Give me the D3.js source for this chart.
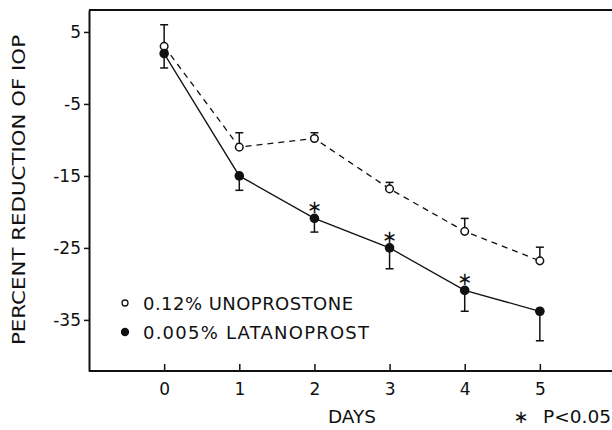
<!DOCTYPE html>
<html>
<head>
<meta charset="utf-8">
<script src="https://cdn.jsdelivr.net/npm/d3@7"></script>
<style>
    body { margin: 0; background: #fff; }
    text { font-family: "DejaVu Sans", sans-serif; fill: #111; }
</style>
</head>
<body>
<div id="chart"></div>
<script>
// Days and mean percent reduction of IOP
const days = [0, 1, 2, 3, 4, 5];
const unoprostone = [3, -11, -9.8, -16.8, -22.7, -26.8];
const unoprostoneErr = [3, 2, 0.8, 0.9, 1.8, 1.9];     // drawn upward
const latanoprost = [2, -15, -20.9, -25, -30.9, -33.8];
const latanoprostErr = [2, 2, 1.9, 2.9, 2.9, 4.1];     // drawn downward
const significantDays = [2, 3, 4];
const yTicks = [5, -5, -15, -25, -35];

const width = 612;
const height = 430;

const svg = d3.select("#chart")
    .append("svg")
    .attr("width", width)
    .attr("height", height);

const x = d3.scaleLinear().domain([-1, 6]).range([89, 615]);
const y = d3.scaleLinear().domain([-42.1, 8.05]).range([371, 10]);

// frame: top line and left axis
svg.append("line")
    .attr("x1", 89).attr("x2", width)
    .attr("y1", y(8.05)).attr("y2", y(8.05))
    .attr("stroke", "#111").attr("stroke-width", 2);

const yAxis = svg.append("g")
    .attr("transform", "translate(89,0)")
    .call(d3.axisLeft(y).tickValues(yTicks).tickSize(5).tickPadding(3).tickSizeOuter(0));
yAxis.select(".domain").attr("stroke", "#111").attr("stroke-width", 2);
yAxis.selectAll(".tick line").attr("stroke", "#111").attr("stroke-width", 1.5);
yAxis.selectAll("text")
    .attr("font-size", 17)
    .attr("font-family", "DejaVu Sans, sans-serif")
    .attr("fill", "#111")
    .text(d => d < 0 ? "-" + Math.abs(d) : d);

const xAxis = svg.append("g")
    .attr("transform", "translate(0,371)")
    .call(d3.axisBottom(x).tickValues(days).tickFormat(d3.format("d"))
        .tickSize(-7).tickPadding(12).tickSizeOuter(0));
xAxis.select(".domain").attr("stroke", "#111").attr("stroke-width", 2)
    .attr("d", "M89,0H" + width);
xAxis.selectAll(".tick line").attr("stroke", "#111").attr("stroke-width", 1.5);
xAxis.selectAll("text")
    .attr("font-size", 17)
    .attr("font-family", "DejaVu Sans, sans-serif")
    .attr("fill", "#111");

// axis titles
svg.append("text")
    .attr("transform", "translate(25,190) rotate(-90)")
    .attr("text-anchor", "middle")
    .attr("font-size", 17)
    .attr("textLength", 310)
    .attr("lengthAdjust", "spacingAndGlyphs")
    .text("PERCENT REDUCTION OF IOP");

svg.append("text")
    .attr("x", 328).attr("y", 423)
    .attr("font-size", 17)
    .attr("textLength", 48)
    .attr("lengthAdjust", "spacingAndGlyphs")
    .text("DAYS");

svg.append("text")
    .attr("x", 521).attr("y", 423)
    .attr("text-anchor", "middle")
    .attr("font-size", 18)
    .text("\u2217");

svg.append("text")
    .attr("x", 543).attr("y", 423)
    .attr("font-size", 17)
    .attr("textLength", 68)
    .attr("lengthAdjust", "spacingAndGlyphs")
    .text("P<0.05");

// lines
const line = d3.line().x((d, i) => x(days[i])).y(d => y(d));

svg.append("path")
    .datum(unoprostone)
    .attr("d", line)
    .attr("fill", "none")
    .attr("stroke", "#111")
    .attr("stroke-width", 1.3)
    .attr("stroke-dasharray", "6,5");

svg.append("path")
    .datum(latanoprost)
    .attr("d", line)
    .attr("fill", "none")
    .attr("stroke", "#111")
    .attr("stroke-width", 1.3);

// error bars
function errorBars(values, errs, dir) {
    const g = svg.append("g").attr("stroke", "#111").attr("stroke-width", 1.5);
    values.forEach((v, i) => {
        const cx = x(days[i]);
        const end = y(v + dir * errs[i]);
        g.append("line").attr("x1", cx).attr("x2", cx).attr("y1", y(v)).attr("y2", end);
        g.append("line").attr("x1", cx - 4).attr("x2", cx + 4).attr("y1", end).attr("y2", end);
    });
}
errorBars(unoprostone, unoprostoneErr, 1);
errorBars(latanoprost, latanoprostErr, -1);

// markers
svg.selectAll(".uno")
    .data(unoprostone)
    .enter()
    .append("circle")
    .attr("cx", (d, i) => x(days[i]))
    .attr("cy", d => y(d))
    .attr("r", 3.8)
    .attr("fill", "#fff")
    .attr("stroke", "#111")
    .attr("stroke-width", 1.5);

svg.selectAll(".lat")
    .data(latanoprost)
    .enter()
    .append("circle")
    .attr("cx", (d, i) => x(days[i]))
    .attr("cy", d => y(d))
    .attr("r", 4.8)
    .attr("fill", "#111");

// significance asterisks
svg.selectAll(".star")
    .data(significantDays)
    .enter()
    .append("text")
    .attr("x", d => x(d))
    .attr("y", d => y(latanoprost[days.indexOf(d)]) - 5)
    .attr("text-anchor", "middle")
    .attr("font-size", 18)
    .text("\u2217");

// legend
const legend = [
    { label: "0.12% UNOPROSTONE", filled: false, len: 210 },
    { label: "0.005% LATANOPROST", filled: true, len: 226 }
];
legend.forEach((d, i) => {
    const ly = 303 + i * 29;
    svg.append("circle")
        .attr("cx", 125).attr("cy", ly)
        .attr("r", d.filled ? 3.5 : 3)
        .attr("fill", d.filled ? "#111" : "#fff")
        .attr("stroke", "#111")
        .attr("stroke-width", 1.3);
    svg.append("text")
        .attr("x", 143).attr("y", ly + 7)
        .attr("font-size", 18)
        .attr("textLength", d.len)
        .attr("lengthAdjust", "spacing")
        .text(d.label);
});
</script>
</body>
</html>
